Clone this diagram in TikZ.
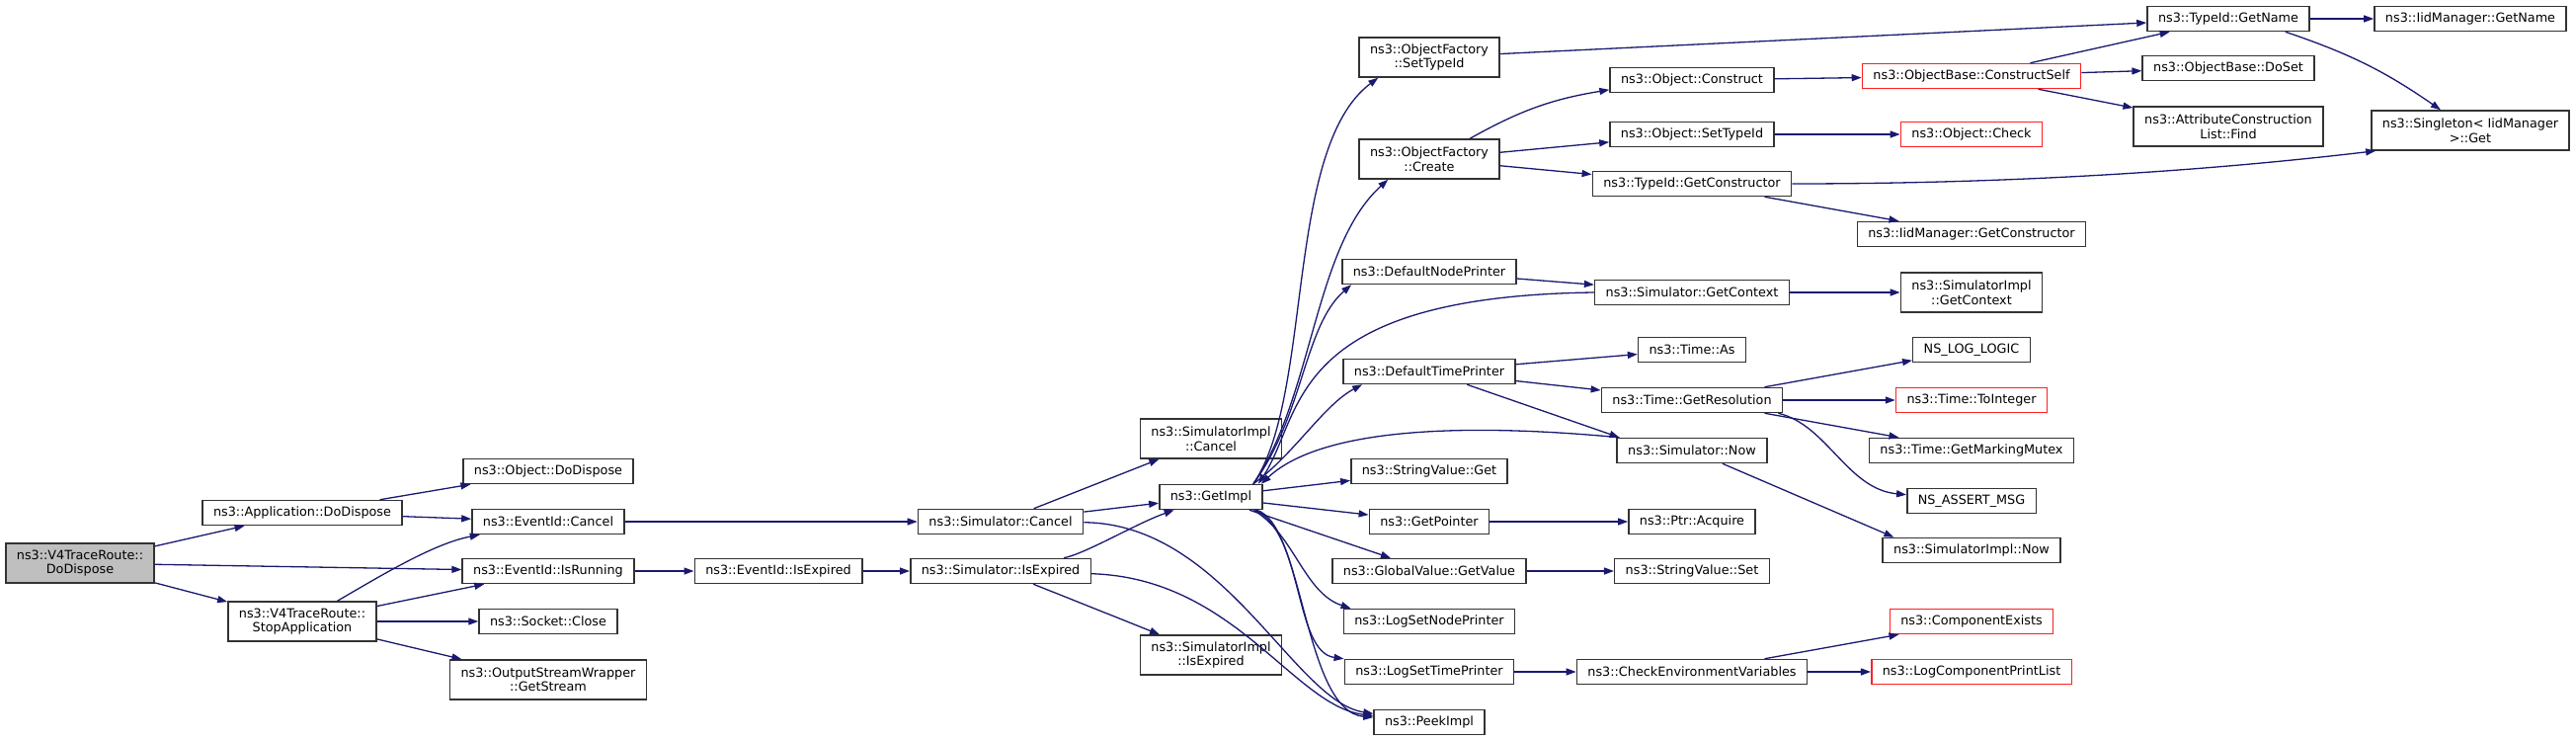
\documentclass[tikz,border=0pt]{standalone}
\usepackage{fontspec}
\setmainfont{DejaVu Sans}
\usetikzlibrary{arrows.meta}
\definecolor{cEdge}{HTML}{191970}
\definecolor{cBox}{HTML}{333333}
\definecolor{cTrunc}{HTML}{FF2020}
\definecolor{cRoot}{HTML}{BFBFBF}
\tikzset{
    x=1pt, y=-1pt, font=\fontsize{12.8}{14.6}\selectfont,
    fn/.style={draw=cBox, line width=1.5pt, fill=white, inner xsep=11pt,
               inner ysep=2pt, minimum height=25pt, align=center},
    fn2/.style={fn, minimum height=40pt},
    trunc/.style={fn, draw=cTrunc},
    rootfn/.style={fn2, fill=cRoot},
    call/.style={-{Triangle[length=10pt, width=7pt]}, line width=1.3pt, cEdge},
}

\begin{document}
\begin{tikzpicture}
    \useasboundingbox (0,0) rectangle (2608,749);

    % columna 0-4
    \node[rootfn] (root) at (81,570) {ns3::V4TraceRoute::\\DoDispose};
    \node[fn] (appdd) at (306,519) {ns3::Application::DoDispose};
    \node[fn2] (stopapp) at (306,629) {ns3::V4TraceRoute::\\StopApplication};
    \node[fn] (objdd) at (555,477) {ns3::Object::DoDispose};
    \node[fn] (evcancel) at (555,528) {ns3::EventId::Cancel};
    \node[fn] (evrun) at (555,578) {ns3::EventId::IsRunning};
    \node[fn] (sockclose) at (555,629) {ns3::Socket::Close};
    \node[fn2] (getstream) at (555,688) {ns3::OutputStreamWrapper\\::GetStream};
    \node[fn] (evexp) at (788,578) {ns3::EventId::IsExpired};
    \node[fn] (simcancel) at (1013,528) {ns3::Simulator::Cancel};
    \node[fn] (simexp) at (1013,578) {ns3::Simulator::IsExpired};

    % columna 5-6
    \node[fn2] (implcancel) at (1226,444) {ns3::SimulatorImpl\\::Cancel};
    \node[fn] (getimpl) at (1226,503) {ns3::GetImpl};
    \node[fn2] (implexp) at (1226,663) {ns3::SimulatorImpl\\::IsExpired};
    \node[fn2] (ofsettid) at (1447,58) {ns3::ObjectFactory\\::SetTypeId};
    \node[fn2] (ofcreate) at (1447,161) {ns3::ObjectFactory\\::Create};
    \node[fn] (nodeprn) at (1447,275) {ns3::DefaultNodePrinter};
    \node[fn] (timeprn) at (1447,376) {ns3::DefaultTimePrinter};
    \node[fn] (svget) at (1447,477) {ns3::StringValue::Get};
    \node[fn] (getptr) at (1447,528) {ns3::GetPointer};
    \node[fn] (gvget) at (1447,578) {ns3::GlobalValue::GetValue};
    \node[fn] (lognode) at (1447,629) {ns3::LogSetNodePrinter};
    \node[fn] (logtime) at (1447,680) {ns3::LogSetTimePrinter};
    \node[fn] (peek) at (1447,731) {ns3::PeekImpl};

    % columna 7
    \node[fn] (objcons) at (1713,81) {ns3::Object::Construct};
    \node[fn] (objsettid) at (1713,136) {ns3::Object::SetTypeId};
    \node[fn] (tidcons) at (1713,186) {ns3::TypeId::GetConstructor};
    \node[fn] (simctx) at (1713,296) {ns3::Simulator::GetContext};
    \node[fn] (timeas) at (1713,354) {ns3::Time::As};
    \node[fn] (timeres) at (1713,405) {ns3::Time::GetResolution};
    \node[fn] (simnow) at (1713,456) {ns3::Simulator::Now};
    \node[fn] (ptracq) at (1713,528) {ns3::Ptr::Acquire};
    \node[fn] (svset) at (1713,578) {ns3::StringValue::Set};
    \node[fn] (checkenv) at (1713,680) {ns3::CheckEnvironmentVariables};

    % columna 8
    \node[trunc] (conself) at (1996,77) {ns3::ObjectBase::ConstructSelf};
    \node[trunc] (objcheck) at (1996,136) {ns3::Object::Check};
    \node[fn] (iidcons) at (1996,237) {ns3::IidManager::GetConstructor};
    \node[fn2] (implctx) at (1996,296) {ns3::SimulatorImpl\\::GetContext};
    \node[fn] (loglogic) at (1996,354) {NS\_LOG\_LOGIC};
    \node[trunc] (toint) at (1996,405) {ns3::Time::ToInteger};
    \node[fn] (mutex) at (1996,456) {ns3::Time::GetMarkingMutex};
    \node[fn] (assertmsg) at (1996,507) {NS\_ASSERT\_MSG};
    \node[fn] (implnow) at (1996,557) {ns3::SimulatorImpl::Now};
    \node[trunc] (compex) at (1996,629) {ns3::ComponentExists};
    \node[trunc] (printlist) at (1996,680) {ns3::LogComponentPrintList};

    % columna 9-10
    \node[fn] (tidname) at (2256,19) {ns3::TypeId::GetName};
    \node[fn] (doset) at (2256,69) {ns3::ObjectBase::DoSet};
    \node[fn2] (acfind) at (2256,128) {ns3::AttributeConstruction\\List::Find};
    \node[fn] (iidname) at (2501,19) {ns3::IidManager::GetName};
    \node[fn2] (singleton) at (2501,132) {ns3::Singleton< IidManager\\>::Get};

    \draw[call] (root) -- (appdd);
    \draw[call] (root) -- (evrun);
    \draw[call] (root) -- (stopapp);
    \draw[call] (appdd) -- (objdd);
    \draw[call] (appdd) -- (evcancel);
    \draw[call] (stopapp) .. controls (390,580) and (440,550) .. (evcancel);
    \draw[call] (stopapp) -- (evrun);
    \draw[call] (stopapp) -- (sockclose);
    \draw[call] (stopapp) -- (getstream);
    \draw[call] (evcancel) -- (simcancel);
    \draw[call] (evrun) -- (evexp);
    \draw[call] (evexp) -- (simexp);

    \draw[call] (simcancel) -- (implcancel);
    \draw[call] (simcancel) -- (getimpl);
    \draw[call] (simcancel) .. controls (1240,530) and (1310,710) .. (peek);
    \draw[call] (simexp) .. controls (1100,560) and (1150,530) .. (getimpl);
    \draw[call] (simexp) -- (implexp);
    \draw[call] (simexp) .. controls (1250,585) and (1310,715) .. (peek);

    \draw[call] ([xshift=-10pt]getimpl.north east) .. controls (1330,400)
        and (1300,150) .. ([xshift=20pt]ofsettid.south west);
    \draw[call] ([xshift=-10pt]getimpl.north east) .. controls (1330,400)
        and (1330,250) .. ([xshift=30pt]ofcreate.south west);
    \draw[call] ([xshift=-10pt]getimpl.north east) .. controls (1320,420)
        and (1320,330) .. ([xshift=10pt]nodeprn.south west);
    \draw[call] ([xshift=-10pt]getimpl.north east) .. controls (1310,460)
        and (1340,410) .. ([xshift=20pt]timeprn.south west);
    \draw[call] (simctx.west) .. controls (1300,300) and (1320,420)
        .. ([xshift=-5pt]getimpl.north east);
    \draw[call] ([xshift=3pt]simnow.north west) .. controls (1450,425)
        and (1330,440) .. ([xshift=-2pt]getimpl.north east);
    \draw[call] (getimpl) -- (svget);
    \draw[call] (getimpl) -- (getptr);
    \draw[call] (getimpl) -- (gvget);
    \draw[call] ([xshift=-10pt]getimpl.south east) .. controls (1310,540)
        and (1320,600) .. ([xshift=8pt]lognode.north west);
    \draw[call] ([xshift=-8pt]getimpl.south east) .. controls (1320,540)
        and (1310,660) .. (logtime.north west);
    \draw[call] (getimpl) .. controls (1320,530) and (1320,720) .. (peek);

    \draw[call] (ofsettid) -- (tidname);
    \draw[call] (ofcreate) to[bend left=10] (objcons);
    \draw[call] (ofcreate) -- (objsettid);
    \draw[call] (ofcreate) -- (tidcons);
    \draw[call] (nodeprn) -- (simctx);
    \draw[call] (simctx) -- (implctx);
    \draw[call] (timeprn) -- (timeas);
    \draw[call] (timeprn) -- (timeres);
    \draw[call] (timeprn) -- ([xshift=3pt]simnow.north west);
    \draw[call] (simnow) -- ([xshift=12pt]implnow.north west);
    \draw[call] (getptr) -- (ptracq);
    \draw[call] (gvget) -- (svset);
    \draw[call] (logtime) -- (checkenv);

    \draw[call] (objcons) -- (conself);
    \draw[call] (objsettid) -- (objcheck);
    \draw[call] (tidcons.east) .. controls (2100,186) and (2300,165)
        .. ([xshift=5pt]singleton.south west);
    \draw[call] (tidcons) -- (iidcons);
    \draw[call] (timeres) -- (loglogic);
    \draw[call] (timeres) -- (toint);
    \draw[call] (timeres) -- (mutex);
    \draw[call] ([xshift=-5pt]timeres.south east) .. controls (1850,430)
        and (1870,495) .. (assertmsg);
    \draw[call] (checkenv) -- (compex);
    \draw[call] (checkenv) -- (printlist);

    \draw[call] (conself) -- (tidname);
    \draw[call] (conself) -- (doset);
    \draw[call] (conself) -- (acfind);
    \draw[call] (tidname) -- (iidname);
    \draw[call] ([xshift=-25pt]tidname.south east) to[bend left=8]
        ([xshift=-30pt]singleton.north);
\end{tikzpicture}
\end{document}
